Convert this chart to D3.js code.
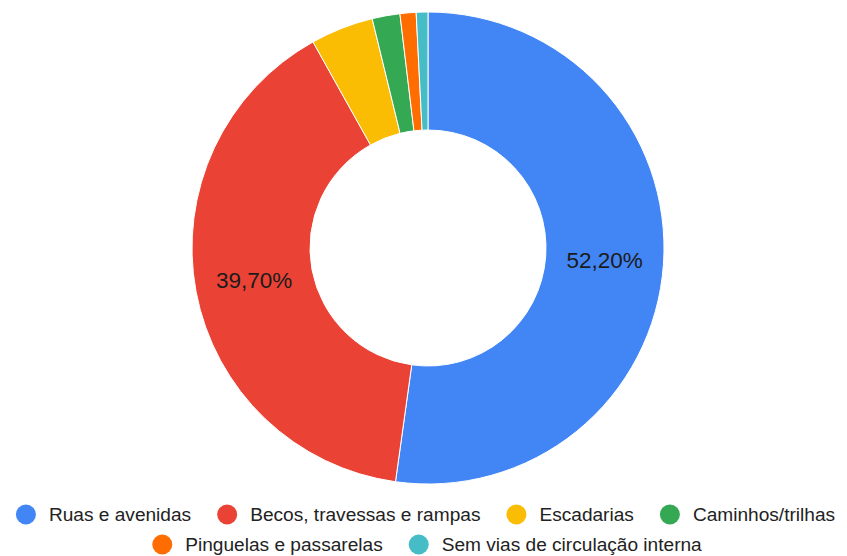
<!DOCTYPE html>
<html>
<head>
<meta charset="utf-8">
<script src="https://cdn.jsdelivr.net/npm/d3@7"></script>
<style>
  html, body { margin: 0; padding: 0; background: #fff; }
  svg { display: block; font-family: Arial, "Liberation Sans", sans-serif; }
</style>
</head>
<body>
<svg id="chart" width="847" height="556"></svg>
<script>
// Vias de circulação: share of each type (%)
const categories = [
  "Ruas e avenidas",
  "Becos, travessas e rampas",
  "Escadarias",
  "Caminhos/trilhas",
  "Pinguelas e passarelas",
  "Sem vias de circulação interna"
];
const values = [52.2, 39.7, 4.3, 1.9, 1.1, 0.8];
const colors = ["#4285f4", "#ea4335", "#fbbc04", "#34a853", "#ff6d01", "#46bdc6"];
const legendRows = [[0, 1, 2, 3], [4, 5]];

const svg = d3.select("#chart");
const cx = 428, cy = 248, outerR = 236, innerR = 118;

const data = categories.map((c, i) => ({ name: c, value: values[i], color: colors[i] }));

const pie = d3.pie().value(d => d.value).sort(null);
const arc = d3.arc().innerRadius(innerR).outerRadius(outerR);
const labelArc = d3.arc().innerRadius(177).outerRadius(177);

const g = svg.append("g").attr("transform", `translate(${cx},${cy})`);
const arcs = pie(data);

g.selectAll("path.slice")
  .data(arcs)
  .join("path")
  .attr("class", "slice")
  .attr("d", arc)
  .attr("fill", d => d.data.color)
  .attr("stroke", "#fff")
  .attr("stroke-width", 1);

const fmt = v => v.toFixed(2).replace(".", ",") + "%";

g.selectAll("text.val")
  .data(arcs.filter(d => d.data.value >= 10))
  .join("text")
  .attr("class", "val")
  .attr("transform", d => `translate(${labelArc.centroid(d)})`)
  .attr("text-anchor", "middle")
  .attr("dominant-baseline", "central")
  .attr("font-size", 22.5)
  .attr("fill", "#1b1b1b")
  .text(d => fmt(d.data.value));

// Legend: two centred rows
const legendY = [514.5, 544.5];
const legendCx = [425.5, 427];
const fontSize = 19.1, dotR = 10, dotGap = 13, itemGap = 26;

legendRows.forEach((row, ri) => {
  const lg = svg.append("g");
  let x = 0;
  row.forEach((idx, k) => {
    const item = lg.append("g").attr("transform", `translate(${x},0)`);
    item.append("circle").attr("cx", dotR).attr("cy", 0).attr("r", dotR).attr("fill", colors[idx]);
    const t = item.append("text")
      .attr("x", 2 * dotR + dotGap)
      .attr("y", 0)
      .attr("dominant-baseline", "central")
      .attr("font-size", fontSize)
      .attr("fill", "#222")
      .text(categories[idx]);
    const w = t.node().getComputedTextLength();
    x += 2 * dotR + dotGap + w + (k < row.length - 1 ? itemGap : 0);
  });
  lg.attr("transform", `translate(${legendCx[ri] - x / 2},${legendY[ri]})`);
});
</script>
</body>
</html>
